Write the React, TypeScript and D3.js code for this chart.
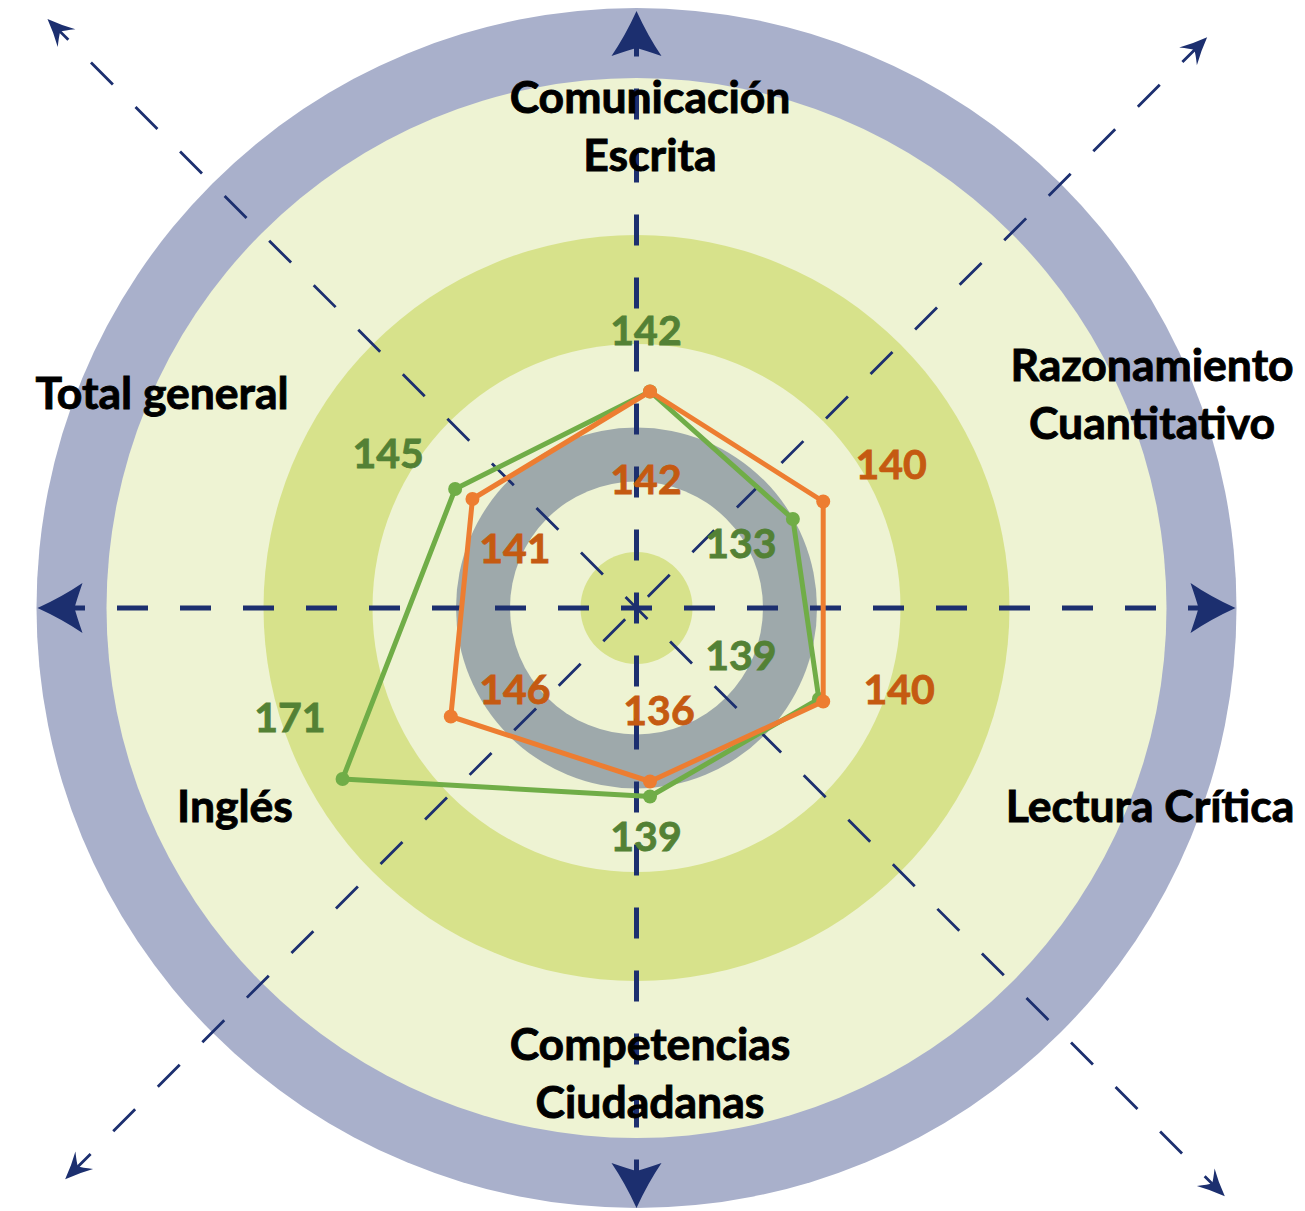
import React from "react";
import * as d3 from "d3";

// ---- data ----
const categories = [
  "Comunicación Escrita",
  "Razonamiento Cuantitativo",
  "Lectura Crítica",
  "Competencias Ciudadanas",
  "Inglés",
  "Total general",
];
const seriesOrange = [142, 140, 140, 136, 146, 141];
const seriesGreen = [142, 133, 139, 139, 171, 145];
const radialDomain = [100, 180];

// ---- layout (positions only) ----
const W = 1305;
const H = 1211;
const BG = { cx: 636.5, cy: 608 };
const RADAR = { cx: 650, cy: 601.5, maxR: 400 };
const rings = [
  { r: 600, fill: "#A9B0CB" },
  { r: 530, fill: "#EEF3D3" },
  { r: 373, fill: "#D7E28B" },
  { r: 264, fill: "#EEF3D3" },
  { r: 180.5, fill: "#9EA9AB" },
  { r: 126.5, fill: "#EEF3D3" },
  { r: 56, fill: "#D7E28B" },
];
const categoryLabelPos = [
  { x: 650, y: 113, lines: ["Comunicación", "Escrita"] },
  { x: 1152, y: 381, lines: ["Razonamiento", "Cuantitativo"] },
  { x: 1150, y: 822, lines: ["Lectura Crítica"] },
  { x: 650, y: 1060, lines: ["Competencias", "Ciudadanas"] },
  { x: 235, y: 822, lines: ["Inglés"] },
  { x: 162, y: 409, lines: ["Total general"] },
];
const orangeLabelOffsets = [
  [-4, 102.5], [68, -22.5], [76, 2.5], [9, -56.5], [64, -12.5], [42.5, 64],
];
const greenLabelOffsets = [
  [-4, -46.5], [-52, 39], [-78, -29], [-4, 54.5], [-52.6, -47], [-67, -21],
];

const NAVY = "#1C2F6F";
const FONT = "Lato, 'Open Sans', sans-serif";
const FS_CAT = 44.5;
const FS_VAL = 41;

const rScale = d3.scaleLinear().domain(radialDomain).range([0, RADAR.maxR]);
const angle = (i: number) => (i * 2 * Math.PI) / categories.length;

function pointOf(v: number, i: number) {
  const r = rScale(v);
  const a = angle(i);
  return [RADAR.cx + r * Math.sin(a), RADAR.cy - r * Math.cos(a)];
}

// arrow directions (degrees in svg coords) and tip distance
const bigArrows = [
  { deg: 180, len: 599 },
  { deg: 0, len: 599 },
  { deg: -90, len: 597 },
  { deg: 90, len: 600 },
];
const smallArrows = [
  { deg: -135, len: 833, offset: 15.5 },
  { deg: 45, len: 832, offset: 15.5 },
  { deg: -45, len: 807, offset: 47 },
  { deg: 135, len: 808, offset: 47 },
];

function arrowPath(L: number, hw: number, notch: number) {
  return `M0,0 Q${-L * 0.55},${-hw * 0.45} ${-L},${-hw} Q${-notch - 2},${-hw * 0.3} ${-notch},0 Q${-notch - 2},${hw * 0.3} ${-L},${hw} Q${-L * 0.55},${hw * 0.45} 0,0 Z`;
}

export default function App() {
  const line = d3
    .lineRadial<number>()
    .angle((_d, i) => angle(i))
    .radius((d) => rScale(d))
    .curve(d3.curveLinearClosed);

  const series = [
    { values: seriesGreen, color: "#70AD47", label: "#538135", offsets: greenLabelOffsets },
    { values: seriesOrange, color: "#ED7D31", label: "#C55A11", offsets: orangeLabelOffsets },
  ];

  return (
    <svg
      width={W}
      height={H}
      viewBox={`0 0 ${W} ${H}`}
      style={{ position: "absolute", left: 0, top: 0, background: "#fff" }}
    >
      {/* background rings */}
      {rings.map((c, i) => (
        <circle key={i} cx={BG.cx} cy={BG.cy} r={c.r} fill={c.fill} />
      ))}

      {/* diagonal dashed arrows */}
      {smallArrows.map((a, i) => {
        const rad = (a.deg * Math.PI) / 180;
        const ux = Math.cos(rad);
        const uy = Math.sin(rad);
        const tipX = BG.cx + ux * a.len;
        const tipY = BG.cy + uy * a.len;
        return (
          <g key={"s" + i}>
            <line
              x1={BG.cx}
              y1={BG.cy}
              x2={BG.cx + ux * (a.len - 14)}
              y2={BG.cy + uy * (a.len - 14)}
              stroke={NAVY}
              strokeWidth={2.8}
              strokeDasharray="31 32"
              strokeDashoffset={a.offset}
            />
            <path
              d={arrowPath(27, 12.5, 18)}
              fill={NAVY}
              transform={`translate(${tipX},${tipY}) rotate(${a.deg})`}
            />
          </g>
        );
      })}

      {/* main dashed axes */}
      {bigArrows.map((a, i) => {
        const rad = (a.deg * Math.PI) / 180;
        const ux = Math.round(Math.cos(rad));
        const uy = Math.round(Math.sin(rad));
        const tipX = BG.cx + ux * a.len;
        const tipY = BG.cy + uy * a.len;
        return (
          <g key={"b" + i}>
            <line
              x1={BG.cx}
              y1={BG.cy}
              x2={BG.cx + ux * (a.len - 30)}
              y2={BG.cy + uy * (a.len - 30)}
              stroke={NAVY}
              strokeWidth={5}
              strokeDasharray="31 32"
              strokeDashoffset={15.5}
            />
            <path
              d={arrowPath(45, 25, 37)}
              fill={NAVY}
              transform={`translate(${tipX},${tipY}) rotate(${a.deg})`}
            />
          </g>
        );
      })}

      {/* category labels */}
      {categoryLabelPos.map((p, i) => (
        <text
          key={"c" + i}
          x={p.x}
          y={p.y}
          textAnchor="middle"
          fontFamily={FONT}
          fontWeight={700}
          fontSize={FS_CAT}
          fill="#000"
          stroke="#000"
          strokeWidth={0.9}
        >
          {p.lines.map((l, j) => (
            <tspan key={j} x={p.x} dy={j === 0 ? 0 : 57.5}>
              {l}
            </tspan>
          ))}
        </text>
      ))}

      {/* radar series */}
      {series.map((s, si) => (
        <g key={"r" + si}>
          <path
            d={line(s.values) || ""}
            transform={`translate(${RADAR.cx},${RADAR.cy})`}
            fill="none"
            stroke={s.color}
            strokeWidth={5}
            strokeLinejoin="round"
          />
          {s.values.map((v, i) => {
            const [x, y] = pointOf(v, i);
            return <circle key={i} cx={x} cy={y} r={7} fill={s.color} />;
          })}
        </g>
      ))}

      {/* data labels */}
      {series.map((s, si) => (
        <g key={"l" + si}>
          {s.values.map((v, i) => {
            const [x, y] = pointOf(v, i);
            return (
              <text
                key={i}
                x={x + s.offsets[i][0]}
                y={y + s.offsets[i][1]}
                textAnchor="middle"
                fontFamily={FONT}
                fontWeight={700}
                fontSize={FS_VAL}
                fill={s.label}
                stroke={s.label}
                strokeWidth={0.8}
              >
                {v}
              </text>
            );
          })}
        </g>
      ))}
    </svg>
  );
}
